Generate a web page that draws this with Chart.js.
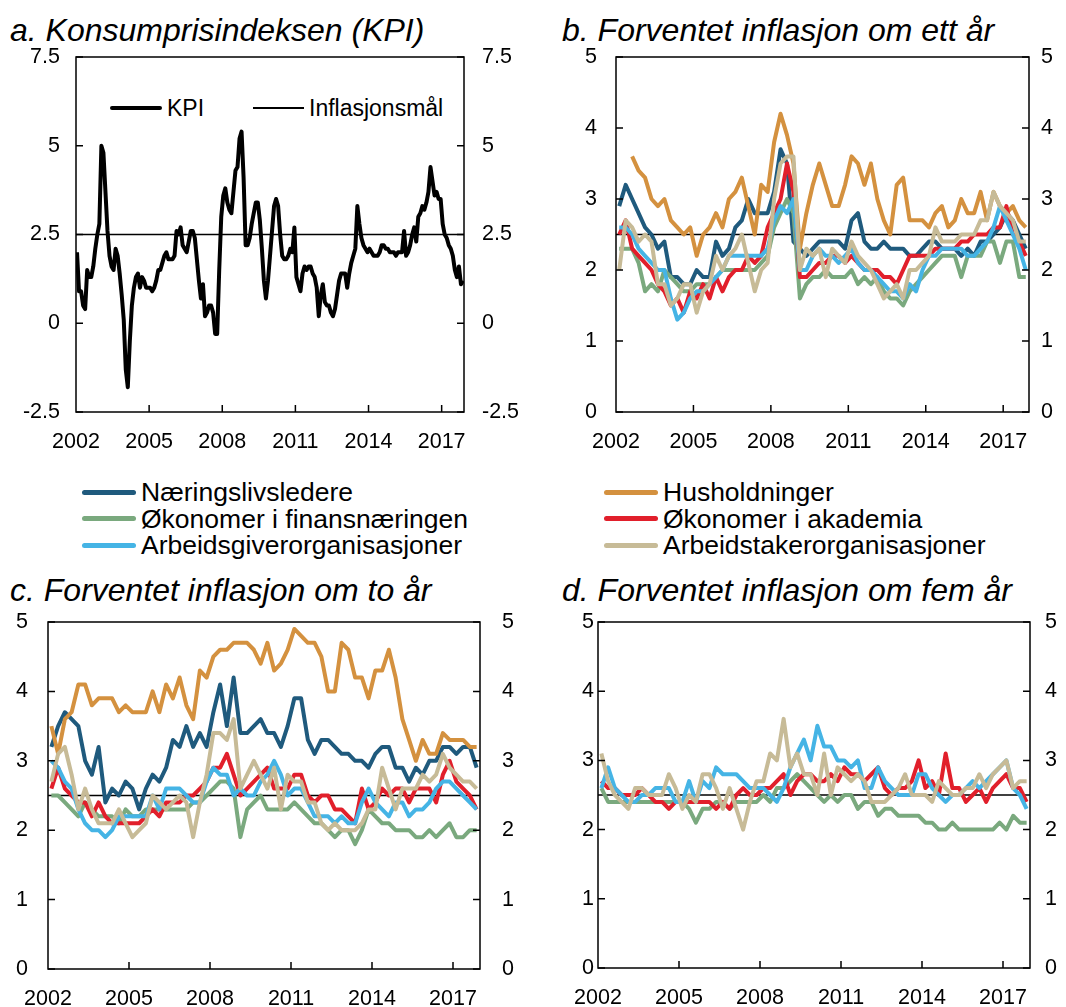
<!DOCTYPE html>
<html><head><meta charset="utf-8">
<script src="https://cdn.jsdelivr.net/npm/chart.js@4.4.1/dist/chart.umd.min.js"></script>
<style>
html,body{margin:0;padding:0;background:#fff;}
body{width:1066px;height:1007px;position:relative;overflow:hidden;font-family:"Liberation Sans",Arial,sans-serif;color:#000;}
canvas{position:absolute;}
.title{position:absolute;font-style:italic;font-size:32px;line-height:32px;white-space:nowrap;}
.lt{position:absolute;font-size:26.5px;line-height:26px;white-space:nowrap;}
.lta{position:absolute;font-size:23px;line-height:23px;white-space:nowrap;}
.sw{position:absolute;border-radius:3px;}
</style></head><body>
<div class="title" style="left:10px;top:14px">a. Konsumprisindeksen (KPI)</div>
<div class="title" style="left:562px;top:14px">b. Forventet inflasjon om ett år</div>
<div class="title" style="left:10px;top:574px">c. Forventet inflasjon om to år</div>
<div class="title" style="left:562px;top:574px">d. Forventet inflasjon om fem år</div>
<div id="legends"></div>
<script>
const FONT = '"Liberation Sans", Arial, sans-serif';
const yearTicks = [2002, 2005, 2008, 2011, 2014, 2017];
const inflationTarget = 2.5;

// a. KPI, 12-month change, monthly from Jan 2002
const kpi = [
  2.0, 0.9, 0.9, 0.5, 0.4, 1.5, 1.3, 1.3, 1.6, 2.1, 2.5, 2.8,
  5.0, 4.8, 3.7, 2.6, 1.9, 1.6, 1.5, 2.1, 1.9, 1.4, 0.8, 0.1,
  -1.3, -1.8, -0.5, 0.5, 1.0, 1.3, 1.4, 1.0, 1.3, 1.2, 1.0, 1.0,
  1.0, 0.9, 1.0, 1.2, 1.5, 1.5, 1.7, 1.9, 2.0, 1.8, 1.8, 1.8,
  1.9, 2.6, 2.5, 2.7, 2.2, 2.1, 2.0, 2.3, 2.6, 2.6, 2.4, 1.8,
  1.2, 0.7, 1.1, 0.2, 0.3, 0.5, 0.5, 0.3, -0.3, -0.3, 1.5, 3.0,
  3.6, 3.8, 3.4, 3.2, 3.1, 3.7, 4.3, 4.4, 5.2, 5.4, 4.1, 2.2,
  2.2, 2.4, 2.8, 3.1, 3.4, 3.4, 2.9, 2.1, 1.2, 0.7, 1.2, 1.9,
  2.6, 3.3, 3.5, 3.3, 2.5, 1.9, 1.8, 1.8, 1.9, 2.1, 2.0, 2.7,
  1.3, 1.1, 0.9, 1.4, 1.6, 1.5, 1.6, 1.6, 1.4, 1.3, 1.0, 0.2,
  0.8, 1.1, 0.6, 0.5, 0.5, 0.3, 0.2, 0.4, 0.8, 1.2, 1.4, 1.4,
  1.4, 1.0, 1.4, 1.7, 1.9, 2.1, 3.3, 2.8, 2.4, 2.2, 2.1, 2.0,
  2.1, 2.0, 1.9, 1.9, 1.9, 2.0, 2.2, 2.2, 2.1, 2.1, 2.0, 2.0,
  2.0, 1.9, 2.0, 2.0, 2.0, 2.6, 1.9, 2.0, 2.2, 2.5, 2.7, 2.3,
  3.0, 3.1, 3.3, 3.2, 3.4, 3.7, 4.4, 4.0, 3.6, 3.7, 3.5, 3.5,
  2.8, 2.5, 2.4, 2.2, 2.1, 1.9, 1.5, 1.3, 1.6, 1.1, 1.2
];

// b. one year ahead, quarterly from 2002Q1
const b_naeringsliv = [
  2.9,3.2,3.0,2.8, 2.6,2.5,2.3,2.4, 1.9,1.9,1.8,1.8, 2.0,1.9,1.9,2.4,
  2.2,2.3,2.6,2.7, 3.0,2.8,2.8,2.8, 3.1,3.7,3.5,2.4, 2.3,2.2,2.3,2.4,
  2.4,2.4,2.4,2.3, 2.7,2.8,2.4,2.3, 2.3,2.4,2.3,2.3, 2.3,2.2,2.2,2.3,
  2.4,2.4,2.3,2.3, 2.3,2.2,2.3,2.2, 2.4,2.4,2.5,2.6, 2.8,2.7,2.5,2.3
];
const b_husholdninger = [
  null,null,3.6,3.4, 3.3,3.0,2.9,3.0, 2.7,2.6,2.5,2.6, 2.2,2.5,2.6,2.8,
  2.6,3.0,3.1,3.3, 2.9,2.5,3.2,3.1, 3.8,4.2,3.9,3.5, 2.3,2.8,3.2,3.5,
  3.2,2.9,2.9,3.2, 3.6,3.5,3.2,3.5, 3.0,2.7,2.5,3.2, 3.3,2.7,2.7,2.7,
  2.6,2.8,2.9,2.6, 2.7,3.0,2.8,2.8, 3.1,2.7,3.1,2.9, 2.8,2.9,2.7,2.6
];
const b_finans = [
  2.3,2.3,2.3,2.1, 1.7,1.8,1.7,2.0, 1.9,1.8,1.7,1.7, 1.8,1.8,1.8,1.9,
  2.0,2.0,2.0,2.0, 2.0,2.0,2.1,2.2, 2.6,2.8,3.0,2.8, 1.6,1.8,1.9,1.9,
  2.0,1.9,1.9,1.9, 2.0,1.8,1.9,1.8, 1.9,1.7,1.6,1.6, 1.5,1.7,1.8,1.9,
  2.0,2.1,2.2,2.2, 2.2,1.9,2.2,2.2, 2.2,2.4,2.4,2.1, 2.4,2.4,1.9,1.9
];
const b_akademia = [
  2.5,2.7,2.3,2.2, 2.1,2.0,1.8,1.7, 1.5,1.6,1.4,1.7, 1.6,1.8,1.6,1.9,
  1.7,1.9,2.0,2.0, 2.2,2.1,2.2,2.6, 2.8,3.0,3.5,3.1, 1.9,1.9,2.0,2.1,
  2.1,2.2,2.2,2.1, 2.2,2.1,2.0,2.0, 2.0,1.9,1.9,1.8, 2.0,2.2,2.2,2.2,
  2.2,2.3,2.3,2.3, 2.3,2.4,2.4,2.5, 2.5,2.5,2.6,2.6, 2.9,2.5,2.4,2.2
];
const b_arbeidsgiver = [
  2.6,2.6,2.5,2.3, 2.2,2.1,2.0,2.0, 1.6,1.3,1.4,1.6, 1.7,1.7,1.8,1.9,
  2.0,2.2,2.2,2.2, 2.2,2.2,2.2,2.3, 2.7,2.9,2.8,3.0, 2.0,2.0,2.2,2.3,
  2.2,2.2,2.1,2.2, 2.3,2.1,2.0,2.0, 1.9,1.8,1.7,1.7, 1.6,1.8,1.7,2.0,
  2.2,2.2,2.3,2.3, 2.3,2.3,2.2,2.2, 2.3,2.4,2.6,2.9, 2.7,2.5,2.3,2.0
];
const b_arbeidstaker = [
  2.0,2.7,2.6,2.4, 2.5,2.4,1.8,1.8, 1.5,1.6,1.8,1.8, 1.4,1.7,1.8,2.2,
  2.0,2.2,2.3,2.5, 2.1,1.7,2.0,2.1, 3.0,3.5,3.6,3.6, 2.0,2.3,2.2,2.3,
  1.9,2.3,2.2,2.1, 2.4,2.2,2.1,2.0, 1.8,1.6,1.7,1.8, 1.6,2.0,2.0,2.1,
  2.2,2.6,2.4,2.4, 2.4,2.5,2.5,2.5, 2.7,2.7,3.1,2.9, 2.8,2.7,2.4,2.4
];

// c. two years ahead
const c_naeringsliv = [
  3.2,3.5,3.7,3.6, 3.5,3.0,2.8,3.2, 2.4,2.6,2.5,2.7, 2.6,2.3,2.6,2.8,
  2.7,2.9,3.3,3.2, 3.5,3.2,3.4,3.2, 3.7,4.1,3.5,4.2, 3.4,3.4,3.5,3.6,
  3.4,3.4,3.2,3.5, 3.9,3.9,3.3,3.1, 3.3,3.3,3.2,3.1, 3.1,3.0,3.0,2.9,
  3.1,3.2,3.2,2.9, 2.9,2.7,2.9,2.8, 3.0,3.0,3.2,3.2, 3.1,3.2,3.2,2.9
];
const c_husholdninger = [
  3.5,3.1,3.6,3.7, 4.1,4.1,3.8,3.9, 3.9,3.9,3.7,3.8, 3.7,3.7,3.7,4.0,
  3.7,4.1,3.9,4.2, 3.8,3.6,4.3,4.2, 4.5,4.6,4.6,4.7, 4.7,4.7,4.6,4.4,
  4.7,4.3,4.4,4.6, 4.9,4.8,4.7,4.7, 4.5,4.0,4.0,4.7, 4.6,4.2,4.2,3.9,
  4.3,4.3,4.6,4.2, 3.6,3.3,3.0,3.3, 3.1,3.1,3.4,3.3, 3.3,3.3,3.2,3.2
];
const c_finans = [
  2.5,2.5,2.4,2.3, 2.2,2.4,2.3,2.2, 2.2,2.2,2.1,2.3, 2.2,2.2,2.3,2.3,
  2.3,2.3,2.3,2.3, 2.3,2.4,2.4,2.5, 2.6,2.7,2.7,2.6, 1.9,2.3,2.4,2.5,
  2.3,2.3,2.3,2.3, 2.4,2.3,2.2,2.1, 2.1,2.0,1.9,2.0, 2.0,1.8,2.0,2.3,
  2.2,2.1,2.1,2.0, 2.0,2.0,1.9,1.9, 2.0,1.9,2.0,2.1, 1.9,1.9,2.0,2.0
];
const c_akademia = [
  2.6,2.9,2.6,2.5, 2.4,2.4,2.2,2.4, 2.2,2.1,2.1,2.1, 2.1,2.1,2.2,2.3,
  2.2,2.4,2.4,2.4, 2.5,2.5,2.6,2.7, 2.9,2.9,3.1,2.8, 2.5,2.6,2.7,2.8,
  2.9,2.6,2.6,2.6, 2.8,2.8,2.5,2.4, 2.5,2.5,2.3,2.3, 2.2,2.1,2.6,2.3,
  2.4,2.6,2.5,2.6, 2.6,2.4,2.6,2.6, 2.6,2.4,2.8,3.0, 2.7,2.6,2.5,2.3
];
const c_arbeidsgiver = [
  3.0,2.9,2.7,2.6, 2.3,2.1,2.0,2.0, 1.9,2.0,2.2,2.2, 2.2,2.2,2.2,2.5,
  2.3,2.6,2.6,2.6, 2.5,2.4,2.4,2.7, 2.9,2.8,2.8,2.5, 2.6,2.5,2.5,2.7,
  2.8,3.0,2.8,2.5, 2.6,2.6,2.4,2.2, 2.2,2.2,2.1,2.2, 2.1,2.1,2.4,2.6,
  2.4,2.3,2.2,2.4, 2.4,2.2,2.3,2.3, 2.4,2.6,2.7,2.7, 2.6,2.5,2.4,2.3
];
const c_arbeidstaker = [
  2.7,3.1,3.2,2.8, 2.3,2.6,2.3,2.1, 2.1,2.1,2.3,2.1, 1.9,2.0,2.1,2.5,
  2.4,2.3,2.4,2.5, 2.4,1.9,2.4,2.8, 3.4,3.4,3.3,3.6, 2.6,2.8,3.0,2.8,
  2.6,2.9,2.3,2.8, 2.7,2.7,2.4,2.4, 2.1,2.0,2.1,2.0, 2.0,2.0,2.1,2.3,
  2.3,2.9,2.6,2.3, 2.6,2.6,2.6,2.8, 2.7,2.8,3.1,2.9, 2.8,2.7,2.7,2.6
];

// d. five years ahead
const d_finans = [
  2.6,2.4,2.4,2.4, 2.4,2.4,2.4,2.4, 2.4,2.4,2.4,2.4, 2.4,2.3,2.1,2.3,
  2.3,2.4,2.4,2.3, 2.4,2.4,2.4,2.4, 2.5,2.4,2.6,2.6, 2.7,2.8,2.7,2.6,
  2.5,2.4,2.5,2.4, 2.5,2.5,2.3,2.4, 2.4,2.2,2.3,2.3, 2.2,2.2,2.2,2.2,
  2.1,2.1,2.0,2.0, 2.1,2.0,2.0,2.0, 2.0,2.0,2.0,2.1, 2.0,2.2,2.1,2.1
];
const d_akademia = [
  2.7,2.6,2.6,2.5, 2.5,2.5,2.6,2.5, 2.4,2.4,2.3,2.4, 2.4,2.4,2.4,2.4,
  2.4,2.3,2.4,2.3, 2.5,2.6,2.5,2.5, 2.6,2.6,2.7,2.8, 2.5,2.7,2.8,2.8,
  2.7,2.7,2.8,2.7, 2.9,2.8,2.8,2.7, 2.8,2.9,2.6,2.5, 2.6,2.6,2.7,3.0,
  2.6,2.7,2.5,3.1, 2.6,2.6,2.4,2.5, 2.6,2.4,2.6,2.7, 2.8,2.6,2.6,2.4
];
const d_arbeidsgiver = [
  2.6,2.9,2.6,2.5, 2.4,2.4,2.5,2.5, 2.6,2.6,2.6,2.4, 2.4,2.7,2.4,2.7,
  2.6,2.9,2.8,2.8, 2.8,2.7,2.6,2.6, 2.6,2.5,2.4,2.6, 2.9,3.1,3.3,3.0,
  3.5,3.2,3.2,3.0, 3.0,2.9,3.0,2.6, 2.6,2.9,2.7,2.6, 2.5,2.5,2.5,2.8,
  2.8,2.6,2.5,2.4, 2.5,2.5,2.6,2.7, 2.6,2.7,2.8,2.9, 3.0,2.6,2.5,2.3
];
const d_arbeidstaker = [
  3.1,2.7,2.5,2.4, 2.3,2.6,2.6,2.5, 2.5,2.5,2.8,2.6, 2.3,2.5,2.4,2.8,
  2.8,2.6,2.3,2.6, 2.3,2.0,2.4,2.7, 2.7,3.1,3.0,3.6, 2.9,3.1,2.8,2.8,
  2.5,3.1,2.5,2.9, 2.8,2.7,2.8,2.7, 2.4,2.4,2.4,2.5, 2.6,2.8,2.5,2.5,
  2.5,2.4,2.7,2.6, 2.5,2.5,2.6,2.6, 2.8,2.6,2.8,2.9, 3.0,2.6,2.7,2.7
];

const groups = [
  {name:'Næringslivsledere', color:'#1f5a7d'},
  {name:'Husholdninger', color:'#d4913f'},
  {name:'Økonomer i finansnæringen', color:'#7aa97e'},
  {name:'Økonomer i akademia', color:'#e11f2b'},
  {name:'Arbeidsgiverorganisasjoner', color:'#45b4e5'},
  {name:'Arbeidstakerorganisasjoner', color:'#c7bb97'}
];
// drawing priority (lower = on top)
const drawOrder = [6, 5, 4, 3, 2, 1];

const monthX = i => 2002 + (i + 0.5) / 12;
const quarterX = i => 2002 + (i + 0.5) / 4;
const toXY = (vals, xf) => vals.map((v, i) => ({x: xf(i), y: v}));

function seriesSet(arrs) {
  const out = [];
  arrs.forEach((arr, gi) => {
    if (!arr) return;
    out.push({label: groups[gi].name, data: toXY(arr, quarterX), borderColor: groups[gi].color,
      backgroundColor: groups[gi].color, borderWidth: 4, order: drawOrder[gi], fill: false});
  });
  return out;
}
function targetLine(xMax) {
  return {label:'Inflasjonsmål', data:[{x:2002, y:inflationTarget},{x:xMax, y:inflationTarget}],
    borderColor:'#000', borderWidth:1.5, order: 10, fill:false};
}

const frame = {
  id:'frame',
  afterDatasetsDraw(chart) {
    const {ctx, chartArea:a, scales} = chart;
    ctx.save();
    ctx.strokeStyle = '#000';
    ctx.lineWidth = 1.5;
    ctx.strokeRect(a.left, a.top, a.right - a.left, a.bottom - a.top);
    ctx.beginPath();
    scales.y.ticks.forEach(t => {
      const p = scales.y.getPixelForValue(t.value);
      ctx.moveTo(a.left, p); ctx.lineTo(a.left + 7, p);
      ctx.moveTo(a.right - 7, p); ctx.lineTo(a.right, p);
    });
    scales.x.ticks.forEach(t => {
      const p = scales.x.getPixelForValue(t.value);
      if (p > a.left + 2) { ctx.moveTo(p, a.bottom); ctx.lineTo(p, a.bottom - 7); }
    });
    ctx.stroke();
    ctx.restore();
  }
};

function noPad(s) { s.paddingTop = 0; s.paddingBottom = 0; s.paddingLeft = 0; s.paddingRight = 0; }

function makeChart(cfg) {
  const c = document.createElement('canvas');
  c.width = cfg.w; c.height = cfg.h;
  Object.assign(c.style, {left: cfg.left + 'px', top: cfg.top + 'px', width: cfg.w + 'px', height: cfg.h + 'px'});
  document.body.appendChild(c);
  const tickFont = {family: FONT, size: 21.5};
  const yAxis = (pos, w, pad) => ({
    type:'linear', position: pos, min: cfg.yMin, max: cfg.yMax,
    grid:{display:false, drawTicks:false}, border:{display:false},
    ticks:{stepSize: cfg.step, padding: pad, color:'#000', font: tickFont, callback: v => String(v)},
    afterFit: s => { s.width = w; noPad(s); }
  });
  return new Chart(c, {
    type:'line',
    data:{datasets: cfg.datasets},
    options:{
      responsive:false, animation:false, devicePixelRatio:1,
      layout:{autoPadding:false, padding:{top: cfg.padTop, left:0, right:0, bottom:0}},
      plugins:{legend:{display:false}, tooltip:{enabled:false}},
      elements:{point:{radius:0, hoverRadius:0}, line:{tension:0, borderJoinStyle:'round', borderCapStyle:'butt'}},
      scales:{
        x:{type:'linear', position:'bottom', min:2002, max: cfg.xMax,
           grid:{display:false, drawTicks:false}, border:{display:false},
           afterBuildTicks: s => { s.ticks = yearTicks.map(v => ({value: v})); },
           ticks:{autoSkip:false, maxRotation:0, minRotation:0, padding: cfg.xPad, color:'#000', font: tickFont,
                  callback: v => String(v)},
           afterFit: s => { s.height = cfg.xH; noPad(s); }},
        y: yAxis('left', cfg.yW, cfg.lPad),
        y2: yAxis('right', cfg.y2W, cfg.rPad)
      }
    },
    plugins:[frame]
  });
}

const kpiEnd = 2002 + kpi.length / 12;
makeChart({left:0, top:40, w:540, h:430, padTop:17, yW:76, y2W:76, xH:58, xPad:17, lPad:16, rPad:18,
  yMin:-2.5, yMax:7.5, step:2.5, xMax:kpiEnd,
  datasets:[
    {label:'KPI', data: toXY(kpi, monthX), borderColor:'#000', borderWidth:4, order:1, fill:false},
    targetLine(kpiEnd)
  ]});
makeChart({left:540, top:40, w:526, h:430, padTop:17, yW:76, y2W:37, xH:58, xPad:17, lPad:19, rPad:12,
  yMin:0, yMax:5, step:1, xMax:2018,
  datasets: seriesSet([b_naeringsliv, b_husholdninger, b_finans, b_akademia, b_arbeidsgiver, b_arbeidstaker]).concat([targetLine(2018)])});
makeChart({left:0, top:600, w:540, h:407, padTop:22, yW:48, y2W:60, xH:38, xPad:17, lPad:20, rPad:22,
  yMin:0, yMax:5, step:1, xMax:2018,
  datasets: seriesSet([c_naeringsliv, c_husholdninger, c_finans, c_akademia, c_arbeidsgiver, c_arbeidstaker]).concat([targetLine(2018)])});
makeChart({left:540, top:600, w:526, h:407, padTop:22, yW:58, y2W:36, xH:39, xPad:17, lPad:4, rPad:15,
  yMin:0, yMax:5, step:1, xMax:2018,
  datasets: seriesSet([null, null, d_finans, d_akademia, d_arbeidsgiver, d_arbeidstaker]).concat([targetLine(2018)])});

// Legends
const L = document.getElementById('legends');
function addSwatch(x, y, w, h, color, radius) {
  const d = document.createElement('div');
  d.className = 'sw';
  Object.assign(d.style, {left:x+'px', top:(y - h/2)+'px', width:w+'px', height:h+'px', background:color, borderRadius: radius+'px'});
  L.appendChild(d);
}
function addText(x, top, text, cls) {
  const d = document.createElement('div');
  d.className = cls; d.style.left = x + 'px'; d.style.top = top + 'px';
  d.textContent = text; L.appendChild(d);
}
// panel a legend
addSwatch(110, 108, 52, 4, '#000', 2);
addText(167, 97, 'KPI', 'lta');
addSwatch(253, 108, 51, 1.5, '#000', 0);
addText(309, 97, 'Inflasjonsmål', 'lta');
// shared legend
const rowsY = [492, 518.5, 545];
groups.forEach((g, i) => {
  const col = i % 2, row = Math.floor(i / 2);
  const sx = col === 0 ? 82 : 604;
  addSwatch(sx, rowsY[row], 54, 5, g.color, 3);
  addText(sx + 59, rowsY[row] - 12.7, g.name, 'lt');
});
</script>
</body></html>
